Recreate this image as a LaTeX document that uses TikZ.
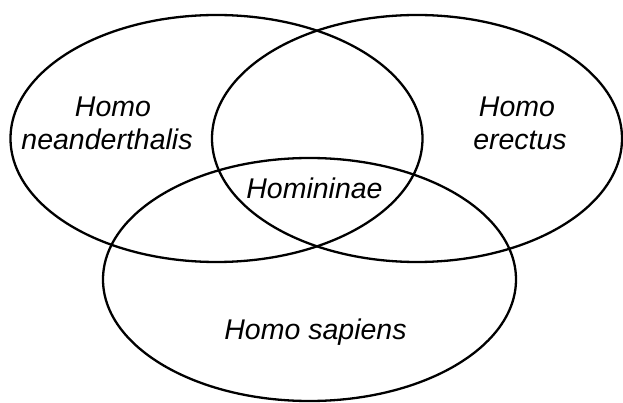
\documentclass[tikz,border=0pt]{standalone}
\usepackage{fontspec}
\setmainfont{Liberation Sans}
\usetikzlibrary{shapes.geometric}
\begin{document}
\begin{tikzpicture}[x=1pt,y=-1pt,
  setring/.style={draw=black, line width=2.3pt, ellipse, inner sep=0pt, minimum width=#1},
  lbl/.style={font=\fontsize{28.5}{33}\selectfont\itshape, inner sep=0pt, align=center, anchor=base}]
\useasboundingbox (0,0) rectangle (623,403);
\node[setring=412pt, minimum height=247pt] (left) at (216.5,138.5) {};
\node[setring=410pt, minimum height=247pt] (right) at (417,138.5) {};
\node[setring=413pt, minimum height=243pt] (bottom) at (309.5,279.5) {};
\node[lbl] (lh) at (113,117) {Homo};
\node[lbl] (ln) at (107,150) {neanderthalis};
\node[lbl] (rh) at (517,117) {Homo};
\node[lbl] (re) at (520,150) {erectus};
\node[lbl] (mid) at (314.5,199) {Homininae};
\node[lbl] (bot) at (315.5,339) {Homo sapiens};
\end{tikzpicture}
\end{document}
